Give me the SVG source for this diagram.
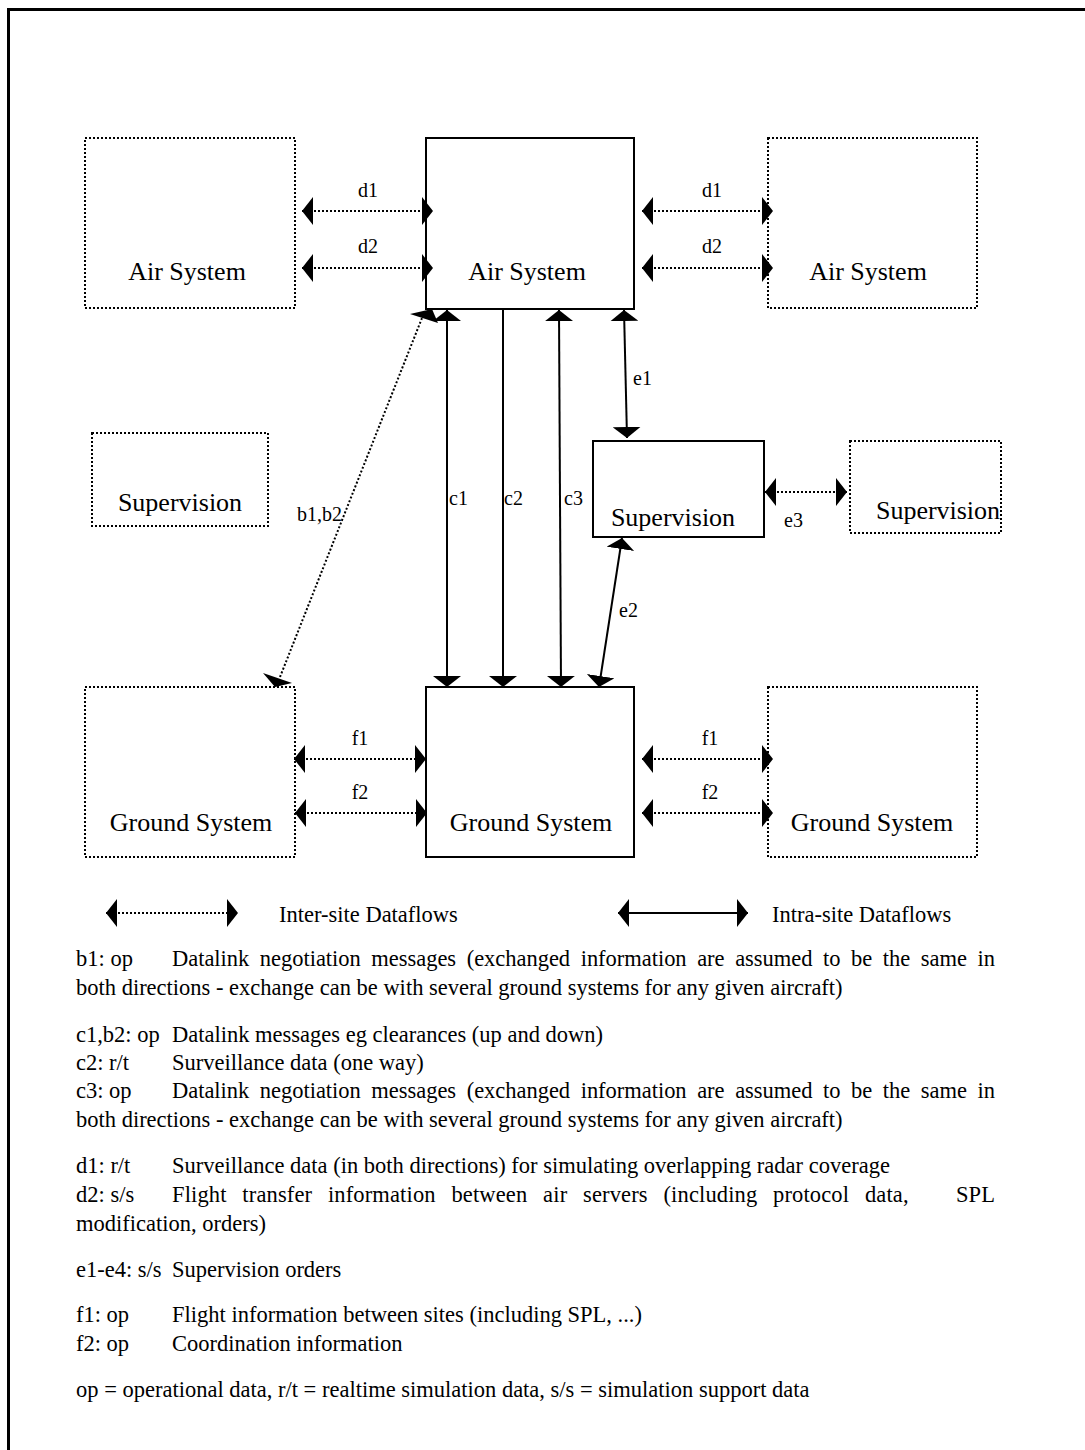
<svg xmlns="http://www.w3.org/2000/svg" width="1085" height="1450" viewBox="0 0 1085 1450">
  <style>
    .solid { fill: #fff; stroke: #000; stroke-width: 2; }
    .dotbox { fill: #fff; stroke: #000; stroke-width: 2; stroke-dasharray: 2 2; }
    .intra { stroke: #000; stroke-width: 2; fill: none; }
    .inter { stroke: #000; stroke-width: 2; stroke-dasharray: 2 2; fill: none; }
    .lbl { font-family: "Liberation Serif", "Times New Roman", serif; font-size: 26px; fill: #000; text-anchor: middle; }
    .tag { font-family: "Liberation Serif", "Times New Roman", serif; font-size: 20px; fill: #000; }
    .body { font-family: "Liberation Serif", "Times New Roman", serif; font-size: 22.5px; fill: #000; }
  </style>
  <defs>
    <marker id="head" viewBox="0 0 11 28" refX="11" refY="14" markerWidth="11" markerHeight="28" markerUnits="userSpaceOnUse" orient="auto-start-reverse">
      <path d="M0,0 L11,14 L0,28 z" fill="#000"/>
    </marker>
  </defs>

  <rect x="8.5" y="9.5" width="1100" height="1460" fill="none" stroke="#000" stroke-width="3"/>

  <!-- nodes -->
  <g id="air-left"><rect class="dotbox" x="85" y="138" width="210" height="170"/><text class="lbl" x="187" y="280">Air System</text></g>
  <g id="air-main"><rect class="solid" x="426" y="138" width="208" height="171"/><text class="lbl" x="527" y="280">Air System</text></g>
  <g id="air-right"><rect class="dotbox" x="768" y="138" width="209" height="170"/><text class="lbl" x="868" y="280">Air System</text></g>

  <g id="sup-left"><rect class="dotbox" x="92" y="433" width="176" height="93"/><text class="lbl" x="180" y="511">Supervision</text></g>
  <g id="sup-main"><rect class="solid" x="593" y="441" width="171" height="96"/><text class="lbl" x="673" y="526">Supervision</text></g>
  <g id="sup-right"><rect class="dotbox" x="850" y="441" width="151" height="92"/><text class="lbl" x="938" y="519" textLength="124">Supervision</text></g>

  <g id="ground-left"><rect class="dotbox" x="85" y="687" width="210" height="170"/><text class="lbl" x="191" y="831">Ground System</text></g>
  <g id="ground-main"><rect class="solid" x="426" y="687" width="208" height="170"/><text class="lbl" x="531" y="831">Ground System</text></g>
  <g id="ground-right"><rect class="dotbox" x="768" y="687" width="209" height="170"/><text class="lbl" x="872" y="831">Ground System</text></g>

  <!-- connectors -->
  <g id="connectors">
    <line class="inter" x1="302" y1="211" x2="433" y2="211" marker-start="url(#head)" marker-end="url(#head)"/>
    <line class="inter" x1="302" y1="268" x2="433" y2="268" marker-start="url(#head)" marker-end="url(#head)"/>
    <line class="inter" x1="642" y1="211" x2="773" y2="211" marker-start="url(#head)" marker-end="url(#head)"/>
    <line class="inter" x1="642" y1="268" x2="773" y2="268" marker-start="url(#head)" marker-end="url(#head)"/>
    <text class="tag" x="368" y="197" text-anchor="middle">d1</text>
    <text class="tag" x="368" y="253" text-anchor="middle">d2</text>
    <text class="tag" x="712" y="197" text-anchor="middle">d1</text>
    <text class="tag" x="712" y="253" text-anchor="middle">d2</text>

    <line class="intra" x1="447" y1="310" x2="447" y2="687" marker-start="url(#head)" marker-end="url(#head)"/>
    <line class="intra" x1="503" y1="309" x2="503" y2="687" marker-end="url(#head)"/>
    <line class="intra" x1="559" y1="310" x2="561" y2="687" marker-start="url(#head)" marker-end="url(#head)"/>
    <line class="intra" x1="624" y1="310" x2="627" y2="438" marker-start="url(#head)" marker-end="url(#head)"/>
    <line class="intra" x1="622" y1="538" x2="599" y2="687" marker-start="url(#head)" marker-end="url(#head)"/>
    <text class="tag" x="449" y="505">c1</text>
    <text class="tag" x="504" y="505">c2</text>
    <text class="tag" x="564" y="505">c3</text>
    <text class="tag" x="633" y="385">e1</text>
    <text class="tag" x="619" y="617">e2</text>

    <line class="inter" x1="765" y1="492" x2="847" y2="492" marker-start="url(#head)" marker-end="url(#head)"/>
    <text class="tag" x="784" y="527">e3</text>

    <line class="inter" stroke-width="1.5" x1="280" y1="677" x2="422" y2="318"/>
    <polygon points="410,314 432,309 438,323" fill="#000"/>
    <polygon points="263,673 292,683 275,687" fill="#000"/>
    <text class="tag" x="297" y="521">b1,b2</text>

    <line class="inter" x1="294" y1="759" x2="426" y2="759" marker-start="url(#head)" marker-end="url(#head)"/>
    <line class="inter" x1="295" y1="813" x2="427" y2="813" marker-start="url(#head)" marker-end="url(#head)"/>
    <line class="inter" x1="642" y1="759" x2="773" y2="759" marker-start="url(#head)" marker-end="url(#head)"/>
    <line class="inter" x1="642" y1="813" x2="773" y2="813" marker-start="url(#head)" marker-end="url(#head)"/>
    <text class="tag" x="360" y="745" text-anchor="middle">f1</text>
    <text class="tag" x="360" y="799" text-anchor="middle">f2</text>
    <text class="tag" x="710" y="745" text-anchor="middle">f1</text>
    <text class="tag" x="710" y="799" text-anchor="middle">f2</text>
  </g>

  <!-- legend -->
  <g id="legend">
    <line class="inter" x1="106" y1="913" x2="238" y2="913" marker-start="url(#head)" marker-end="url(#head)"/>
    <text class="body" x="279" y="922">Inter-site Dataflows</text>
    <line class="intra" x1="618" y1="913" x2="748" y2="913" marker-start="url(#head)" marker-end="url(#head)"/>
    <text class="body" x="772" y="922">Intra-site Dataflows</text>
  </g>

  <!-- notes -->
  <g id="notes" class="body">
    <text x="76" y="966">b1: op</text>
    <text x="172" y="966" textLength="823" lengthAdjust="spacing" word-spacing="5">Datalink negotiation messages (exchanged information are assumed to be the same in</text>
    <text x="76" y="995">both directions - exchange can be with several ground systems for any given aircraft)</text>

    <text x="76" y="1042">c1,b2: op</text>
    <text x="172" y="1042">Datalink messages eg clearances (up and down)</text>
    <text x="76" y="1070">c2: r/t</text>
    <text x="172" y="1070">Surveillance data (one way)</text>
    <text x="76" y="1098">c3: op</text>
    <text x="172" y="1098" textLength="823" lengthAdjust="spacing" word-spacing="5">Datalink negotiation messages (exchanged information are assumed to be the same in</text>
    <text x="76" y="1127">both directions - exchange can be with several ground systems for any given aircraft)</text>

    <text x="76" y="1173">d1: r/t</text>
    <text x="172" y="1173">Surveillance data (in both directions) for simulating overlapping radar coverage</text>
    <text x="76" y="1202">d2: s/s</text>
    <text x="172" y="1202" xml:space="preserve" textLength="823" lengthAdjust="spacing" word-spacing="10">Flight transfer information between air servers (including protocol data,   SPL</text>
    <text x="76" y="1231">modification, orders)</text>

    <text x="76" y="1277">e1-e4: s/s</text>
    <text x="172" y="1277">Supervision orders</text>

    <text x="76" y="1322">f1: op</text>
    <text x="172" y="1322">Flight information between sites (including SPL, ...)</text>
    <text x="76" y="1351">f2: op</text>
    <text x="172" y="1351">Coordination information</text>

    <text x="76" y="1397">op = operational data, r/t = realtime simulation data, s/s = simulation support data</text>
  </g>
</svg>
